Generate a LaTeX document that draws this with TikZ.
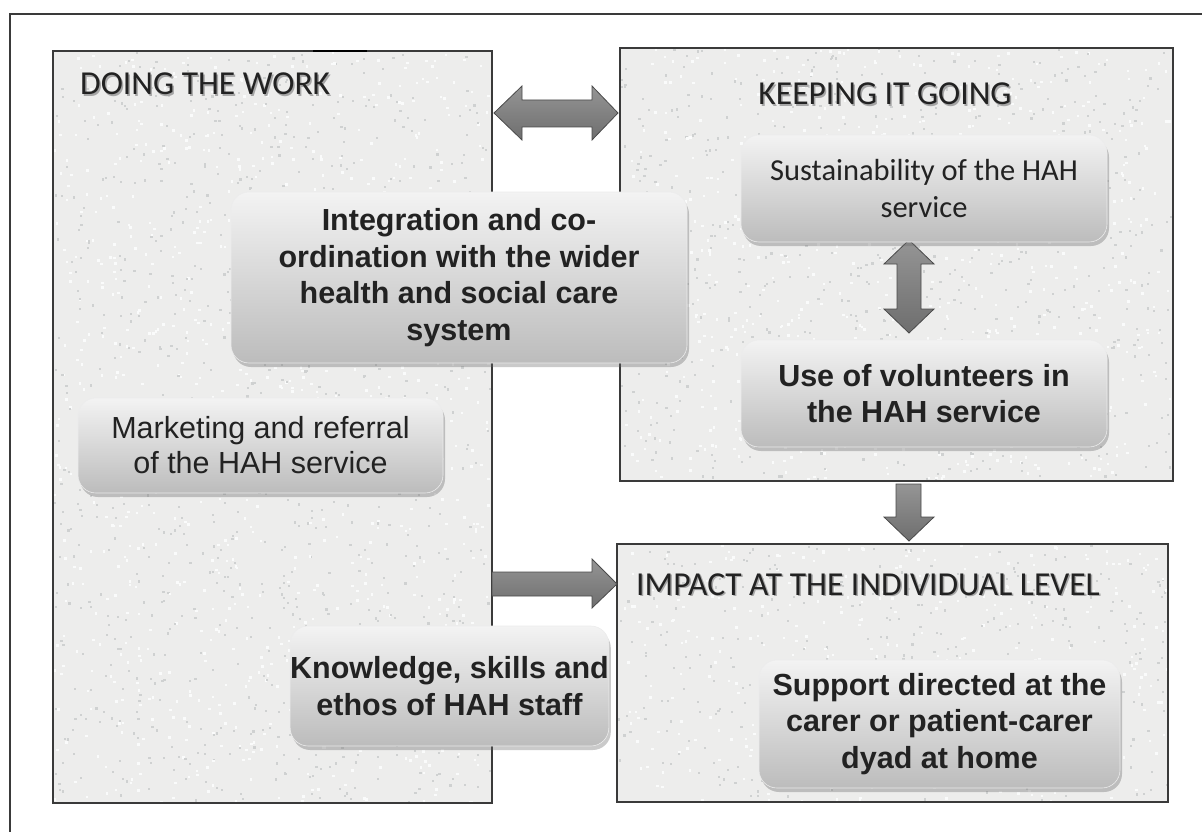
\documentclass[tikz,border=0pt]{standalone}
\usepackage{fontspec}
\newfontfamily\carl{Carlito}
\newfontfamily\arialf{Liberation Sans}
\usetikzlibrary{shadows}
\definecolor{panelfill}{HTML}{EDEDEC}
\definecolor{panelline}{HTML}{3A3A3A}
\definecolor{speckdark}{HTML}{CFD1D1}
\definecolor{specklight}{HTML}{FAFBFB}
\definecolor{boxtop}{HTML}{F3F3F3}
\definecolor{boxmid}{HTML}{CDCDCD}
\definecolor{boxbot}{HTML}{BCBCBC}
\definecolor{arrtop}{HTML}{959595}
\definecolor{arrbot}{HTML}{6E6E6E}
\definecolor{arrline}{HTML}{4A4A4A}
\definecolor{txt}{HTML}{222222}
\tikzset{
  panel/.style={fill=panelfill, inner sep=0pt, outer sep=0pt},
  panelborder/.style={draw=panelline, line width=1.5pt},
  gbox/.style={rounded corners=18pt, top color=boxtop, middle color=boxmid, bottom color=boxbot,
    draw=white!85!gray, line width=0.6pt, inner sep=0pt, outer sep=0pt, align=center, text=txt,
    drop shadow={shadow xshift=2pt, shadow yshift=-4pt, opacity=0.35, fill=black!60}},
  boldtxt/.style={font=\arialf\bfseries\fontsize{30.5}{36.5}\selectfont},
  regtxt/.style={font=\arialf\fontsize{30.5}{35}\selectfont},
  carltxt/.style={font=\carl\fontsize{30.5}{37}\selectfont},
  titletxt/.style={font=\carl\fontsize{33.5}{40}\selectfont, text=txt, inner sep=0pt, anchor=base west},
  titleshadow/.style={font=\carl\fontsize{33.5}{40}\selectfont, text=black!35, inner sep=0pt, anchor=base west},
  blockarrow/.style={top color=arrtop, bottom color=arrbot, draw=arrline, line width=0.8pt, line join=miter},
}
% #1 node name, #2 x0, #3 y0, #4 width, #5 height, #6 number of specks
\newcommand\speckle[6]{%
  \begin{scope}
  \clip (#1.south west) rectangle (#1.north east);
  \foreach \i in {1,...,#6}{%
    \pgfmathsetmacro\xa{#2+#4*rnd}\pgfmathsetmacro\ya{#3+#5*rnd}%
    \fill[speckdark] (\xa,\ya) rectangle ++(2.2,2.2);
    \pgfmathsetmacro\xb{#2+#4*rnd}\pgfmathsetmacro\yb{#3+#5*rnd}%
    \fill[specklight] (\xb,\yb) rectangle ++(2.5,2.5);
  }
  \end{scope}
  \draw[panelborder] (#1.south west) rectangle (#1.north east);
}
\begin{document}
\begin{tikzpicture}[x=1pt,y=-1pt]
\pgfmathsetseed{7}
\useasboundingbox (0,0) rectangle (1202,832);
% outer frame (top and left visible)
\draw[draw=panelline, line width=1.5pt] (1203,14) -- (10,14) -- (10,833);

% panels
\node[panel, minimum width=439pt, minimum height=752pt] (work) at (272.5,427) {};
\node[panel, minimum width=553pt, minimum height=433pt] (keep) at (896.5,264.5) {};
\node[panel, minimum width=551pt, minimum height=258pt] (impact) at (892.5,673) {};
\speckle{work}{53}{51}{439}{752}{900}
\speckle{keep}{620}{48}{553}{433}{650}
\speckle{impact}{617}{544}{551}{258}{380}
\draw[line width=2.5pt, black] (313,51) -- (367,51);

% titles
\node[titleshadow] (t1s) at (81.5,96.5) {DOING THE WORK};
\node[titletxt] (t1) at (80,95) {DOING THE WORK};
\node[titleshadow, anchor=base] (t2s) at (886.5,106.5) {KEEPING IT GOING};
\node[titletxt, anchor=base] (t2) at (885,105) {KEEPING IT GOING};
\node[titleshadow] (t3s) at (637.5,596.5) {IMPACT AT THE INDIVIDUAL LEVEL};
\node[titletxt] (t3) at (636,595) {IMPACT AT THE INDIVIDUAL LEVEL};

% arrows
\path[blockarrow] (494,113) -- (522,86) -- (522,100) -- (592,100) -- (592,86) -- (618,113)
  -- (592,140) -- (592,127) -- (522,127) -- (522,140) -- cycle;
\path[blockarrow] (909,240) -- (934,264) -- (921,264) -- (921,309) -- (934,309) -- (909,333)
  -- (884,309) -- (897,309) -- (897,264) -- (884,264) -- cycle;
\path[blockarrow] (896,484) -- (921,484) -- (921,517) -- (934,517) -- (909,541) -- (884,517)
  -- (896,517) -- cycle;
\path[blockarrow] (492,572) -- (592,572) -- (592,559) -- (617,584) -- (592,608) -- (592,596)
  -- (492,596) -- cycle;

% boxes
\node[gbox, boldtxt, minimum width=456pt, minimum height=171pt] (integ) at (459,277.5)
  {Integration and co-\\ordination with the wider\\health and social care\\system};
\node[gbox, carltxt, minimum width=366pt, minimum height=107pt] (sust) at (924,188.5)
  {\raisebox{3pt}{\parbox{340pt}{\centering Sustainability of the HAH\\service}}};
\node[gbox, boldtxt, minimum width=366pt, minimum height=107pt] (vol) at (924,393.5)
  {Use of volunteers in\\the HAH service};
\node[gbox, regtxt, minimum width=365pt, minimum height=95pt] (mark) at (260.5,445.5)
  {Marketing and referral\\of the HAH service};
\node[gbox, boldtxt, minimum width=305pt, minimum height=120pt] (know) at (449.5,686)
  {Knowledge, skills and\\ethos of HAH staff};
\node[gbox, boldtxt, minimum width=361pt, minimum height=128pt] (supp) at (939.5,724)
  {Support directed at the\\carer or patient-carer\\dyad at home};
\end{tikzpicture}
\end{document}
